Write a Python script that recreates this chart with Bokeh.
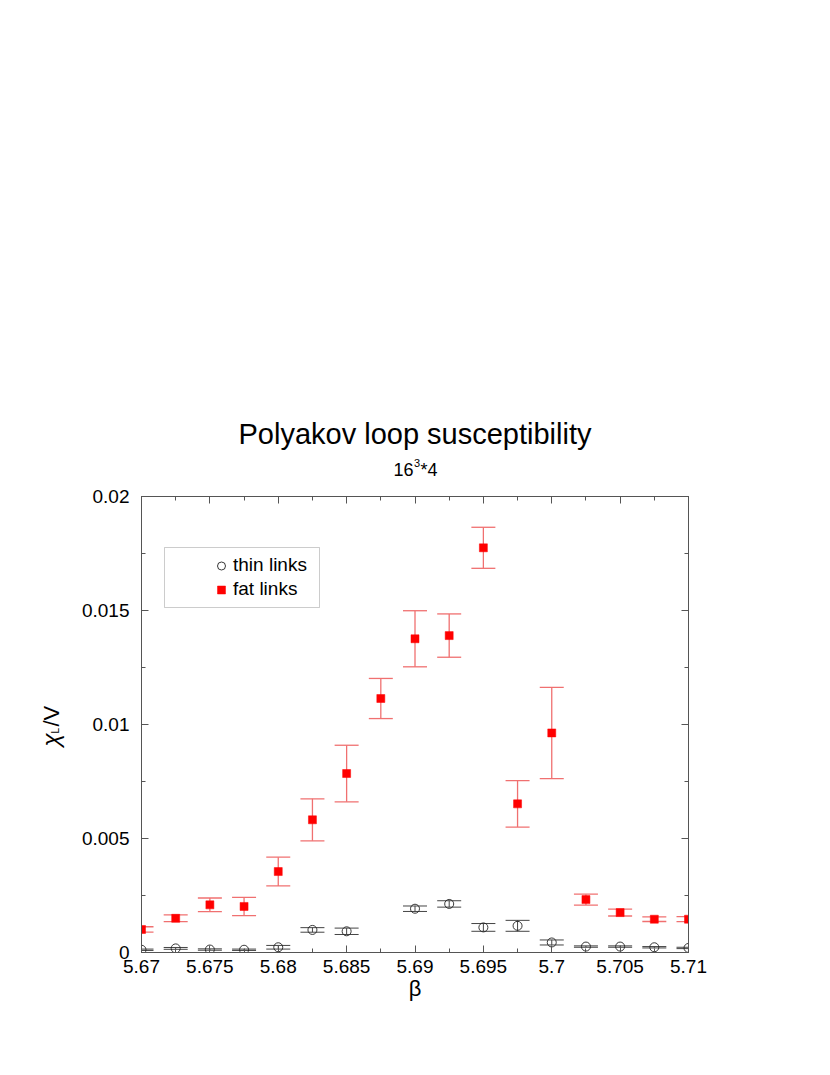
import math
from bokeh.plotting import figure
from bokeh.models import (Range1d, FixedTicker, LinearAxis, Whisker, TeeHead,
                          ColumnDataSource, Label, Legend, LegendItem, BoxAnnotation)
from bokeh.embed import file_html
from bokeh.resources import INLINE

# ---------------- data ----------------
beta_thin = [5.67, 5.6725, 5.675, 5.6775, 5.68, 5.6825, 5.685, 5.69, 5.6925,
             5.695, 5.6975, 5.7, 5.7025, 5.705, 5.7075, 5.71]
chi_thin = [0.00012, 0.00018, 0.00013, 0.00012, 0.00023, 0.00099, 0.00093, 0.00192,
            0.00213, 0.00110, 0.00117, 0.00044, 0.00026, 0.00026, 0.00023, 0.00020]
err_thin = [0.00003, 0.00004, 0.00003, 0.00003, 0.00008, 0.00010, 0.00014, 0.00012,
            0.00014, 0.00017, 0.00024, 0.00011, 0.00003, 0.00003, 0.00003, 0.00003]

beta_fat = [5.67, 5.6725, 5.675, 5.6775, 5.68, 5.6825, 5.685, 5.6875, 5.69, 5.6925,
            5.695, 5.6975, 5.7, 5.7025, 5.705, 5.7075, 5.71]
chi_fat = [0.00101, 0.00150, 0.00209, 0.00202, 0.00355, 0.00582, 0.00785, 0.01114,
           0.01376, 0.01390, 0.01775, 0.00652, 0.00963, 0.00232, 0.00175, 0.00146, 0.00146]
err_fat = [0.00012, 0.00015, 0.00030, 0.00040, 0.00063, 0.00092, 0.00124, 0.00088,
           0.00123, 0.00095, 0.00090, 0.00102, 0.00200, 0.00024, 0.00015, 0.00010, 0.00011]

x_ticks = [5.67, 5.675, 5.68, 5.685, 5.69, 5.695, 5.7, 5.705, 5.71]
x_tick_labels = ["5.67", "5.675", "5.68", "5.685", "5.69", "5.695", "5.7", "5.705", "5.71"]
x_minor = [5.6725, 5.6775, 5.6825, 5.6875, 5.6925, 5.6975, 5.7025, 5.7075]
y_ticks = [0.0, 0.005, 0.01, 0.015, 0.02]
y_tick_labels = ["0", "0.005", "0.01", "0.015", "0.02"]
y_minor = [0.0025, 0.0075, 0.0125, 0.0175]

title_text = "Polyakov loop susceptibility"
subtitle_parts = ["16", "3", "*4"]     # 16^3*4
ylabel_parts = ["\u03c7", "L", "/V"]   # chi_L / V
x_label = "\u03b2"

FONT = "Liberation Sans"
AX = "#555555"

# ---------------- figure ----------------
X0, X1 = 5.67, 5.71
Y0, Y1 = 0.0, 0.02
FW, FH = 547, 456
FL, FT = 141, 496          # frame left / top on the page
FB = FT + FH               # frame bottom

p = figure(frame_width=FW, frame_height=FH, x_range=Range1d(X0, X1), y_range=Range1d(Y0, Y1),
           output_backend="svg", toolbar_location=None, title=None,
           min_border_left=FL, min_border_top=FT, min_border_right=40, min_border_bottom=80)
p.background_fill_color = "white"
p.border_fill_color = "white"
p.outline_line_color = AX
p.grid.visible = False

def dx(px):
    return X0 + (px - FL) * (X1 - X0) / FW

def dy(py):
    return Y0 + (FB - py) * (Y1 - Y0) / FH

def style_axis(ax, labels=True):
    ax.axis_line_color = AX
    ax.major_tick_line_color = AX
    ax.minor_tick_line_color = AX
    ax.major_tick_in = 7
    ax.major_tick_out = 0
    ax.minor_tick_in = 4
    ax.minor_tick_out = 0
    ax.major_label_text_font = FONT
    ax.major_label_text_font_size = "19px"
    ax.major_label_text_color = "black"
    if not labels:
        ax.major_label_text_font_size = "0px"
        ax.major_label_text_alpha = 0

xt = FixedTicker(ticks=x_ticks, minor_ticks=x_minor)
yt = FixedTicker(ticks=y_ticks, minor_ticks=y_minor)

xa = p.xaxis[0]
xa.ticker = xt
xa.major_label_overrides = dict(zip(x_ticks, x_tick_labels))
xa.major_label_standoff = 7
xa.axis_label = x_label
xa.axis_label_text_font = FONT
xa.axis_label_text_font_size = "22px"
xa.axis_label_text_font_style = "normal"
xa.axis_label_text_color = "black"
xa.axis_label_standoff = 0
style_axis(xa)

ya = p.yaxis[0]
ya.ticker = yt
ya.major_label_overrides = dict(zip(y_ticks, y_tick_labels))
ya.major_label_standoff = 12
style_axis(ya)

top_ax = LinearAxis(ticker=FixedTicker(ticks=x_ticks, minor_ticks=x_minor))
style_axis(top_ax, labels=False)
p.add_layout(top_ax, "above")
right_ax = LinearAxis(ticker=FixedTicker(ticks=y_ticks, minor_ticks=y_minor))
style_axis(right_ax, labels=False)
p.add_layout(right_ax, "right")

# ---------------- error bars ----------------
src_thin = ColumnDataSource(dict(x=beta_thin, y=chi_thin,
                                 lo=[c - e for c, e in zip(chi_thin, err_thin)],
                                 up=[c + e for c, e in zip(chi_thin, err_thin)]))
src_fat = ColumnDataSource(dict(x=beta_fat, y=chi_fat,
                                lo=[c - e for c, e in zip(chi_fat, err_fat)],
                                up=[c + e for c, e in zip(chi_fat, err_fat)]))

FAT_ERR = "#f07070"
THIN_ERR = "#444444"
w_fat = Whisker(source=src_fat, base="x", upper="up", lower="lo", dimension="height",
                line_color=FAT_ERR, line_width=1.3,
                upper_head=TeeHead(size=24, line_color=FAT_ERR, line_width=1.3),
                lower_head=TeeHead(size=24, line_color=FAT_ERR, line_width=1.3))
w_thin = Whisker(source=src_thin, base="x", upper="up", lower="lo", dimension="height",
                 line_color=THIN_ERR, line_width=1,
                 upper_head=TeeHead(size=24, line_color=THIN_ERR, line_width=1),
                 lower_head=TeeHead(size=24, line_color=THIN_ERR, line_width=1))
p.add_layout(w_thin)
p.add_layout(w_fat)

# ---------------- markers ----------------
r_thin = p.scatter("x", "y", source=src_thin, marker="circle", size=9,
                   fill_color=None, line_color="#222222", line_width=0.9)
r_fat = p.scatter("x", "y", source=src_fat, marker="square", size=8,
                  fill_color="#ff0000", line_color="#ff0000", line_width=0.5)

# ---------------- legend ----------------
box = BoxAnnotation(left=dx(164), right=dx(319), top=dy(547), bottom=dy(607),
                    fill_alpha=0, fill_color=None, line_color=AX, line_width=1)
p.add_layout(box)
legend = Legend(items=[LegendItem(label="thin links", renderers=[r_thin]),
                       LegendItem(label="fat links", renderers=[r_fat])],
                location=(70, 352), border_line_color=None, background_fill_alpha=0,
                padding=8, margin=0, spacing=2, glyph_width=20, glyph_height=21,
                label_height=21, label_standoff=2, label_text_font=FONT,
                label_text_font_size="19px", label_text_color="black")
p.add_layout(legend)

# ---------------- texts outside the frame (canvas units, in side panels) ----------------
def clabel(px, py, text, size, **kw):
    return Label(x=px, y=py, x_units="canvas", y_units="canvas", text=text,
                 text_font=FONT, text_font_size=size, text_color="black", **kw)

p.add_layout(clabel(414.5, 433, title_text, "29px", text_align="center", text_baseline="middle"), "above")
# subtitle 16^3*4
p.add_layout(clabel(413, 469, subtitle_parts[0], "18px", text_align="right", text_baseline="alphabetic"), "above")
p.add_layout(clabel(413.5, 462, subtitle_parts[1], "11px", text_align="left", text_baseline="alphabetic"), "above")
p.add_layout(clabel(420, 469, subtitle_parts[2], "18px", text_align="left", text_baseline="alphabetic"), "above")

# rotated y label chi_L/V
ang = math.pi / 2
p.add_layout(clabel(50, 746, ylabel_parts[0], "24px", angle=ang, text_align="left",
                    text_baseline="alphabetic", text_font_style="italic"), "left")
p.add_layout(clabel(55, 733, ylabel_parts[1], "10px", angle=ang, text_align="left",
                    text_baseline="alphabetic"), "left")
p.add_layout(clabel(51, 726, ylabel_parts[2], "22px", angle=ang, text_align="left",
                    text_baseline="alphabetic"), "left")

open("out.html", "w").write(file_html(p, INLINE))
